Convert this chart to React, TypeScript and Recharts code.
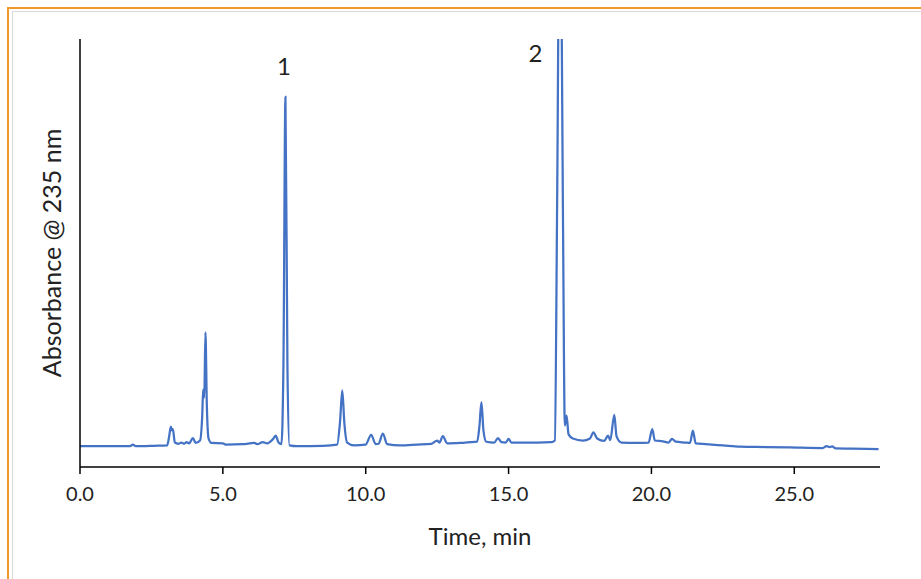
import { LineChart, Line, XAxis, YAxis, Label, ReferenceDot } from 'recharts'

// retention time (min) and detector response
const times = [
  0.0, 1.0, 1.75, 1.85, 1.95, 2.6, 3.05, 3.12, 3.18, 3.22, 3.25, 3.32, 3.45, 3.55, 3.64, 3.73,
  3.82, 3.95, 4.05, 4.2, 4.28, 4.31, 4.35, 4.39, 4.44, 4.5, 4.6, 5.0, 5.1, 5.7, 6.1, 6.2,
  6.4, 6.55, 6.75, 6.85, 6.95, 7.05, 7.12, 7.19, 7.26, 7.33, 7.6, 8.5, 9.0, 9.1, 9.18, 9.25,
  9.35, 9.6, 10.0, 10.19, 10.35, 10.45, 10.6, 10.75, 11.2, 11.8, 12.3, 12.5, 12.58, 12.7, 12.85,
  13.3, 13.9, 13.98, 14.05, 14.12, 14.22, 14.5, 14.63, 14.75, 14.9, 15.0, 15.1, 16.0, 16.5,
  16.62, 16.7, 16.8, 16.9, 16.97, 17.03, 17.1, 17.25, 17.6, 17.85, 17.97, 18.1, 18.35, 18.48,
  18.56, 18.7, 18.78, 18.95, 19.5, 19.9, 20.03, 20.12, 20.4, 20.6, 20.72, 20.85, 21.2, 21.35,
  21.45, 21.55, 21.9, 22.5, 23.1, 24.0, 24.85, 26.0, 26.12, 26.25, 26.32, 26.45, 27.0, 27.95,
]
const absorbance = [
  0.1, 0.1, 0.1, 0.5, 0.1, 0.2, 0.3, 2.5, 4.9, 4.0, 4.3, 1.0, 0.7, 1.0, 0.7, 1.1,
  0.8, 2.1, 0.9, 1.5, 8, 14, 12, 28, 10, 2.0, 0.9, 0.8, 0.5, 0.6, 0.9, 0.6,
  1.1, 0.8, 1.8, 2.7, 1.0, 0.6, 20, 85.8, 20, 0.3, 0.1, 0.2, 0.5, 6, 13.8, 6,
  1.0, 0.3, 0.5, 2.9, 0.6, 0.7, 3.2, 0.6, 0.3, 0.5, 0.7, 1.5, 1.0, 2.6, 0.8,
  0.9, 1.2, 5, 10.9, 4, 1.2, 1.0, 2.1, 1.1, 1.0, 1.9, 1.0, 1.0, 1.1,
  1.5, 60, 150, 60, 5.2, 7.6, 3, 2.0, 1.5, 2.0, 3.5, 2.0, 1.4, 2.7,
  1.6, 7.8, 2.5, 1.0, 0.9, 1.0, 4.3, 1.5, 1.3, 1.0, 1.9, 1.2, 1.0, 0.9,
  3.9, 0.8, 0.6, 0.3, 0.0, -0.1, -0.2, -0.35, 0.1, -0.1, 0.05, -0.45, -0.5, -0.6,
]
const xTicks = [0, 5, 10, 15, 20, 25]

// peak numbering above the two main peaks
const peakNames = ['1', '2']
const peakLabelTimes = [7.14, 15.94]
const peakLabelLevels = [93.3, 96.4]

const FONT = 'Lato, "Open Sans", sans-serif'

export default function App() {
  const data = times.map((t, i) => ({ t, a: absorbance[i] }))

  return (
    <div style={{ position: 'absolute', left: 0, top: 0, width: 921, height: 579, background: '#fff', overflow: 'hidden' }}>
      <div style={{ position: 'absolute', left: 7, top: 7, width: 930, height: 600, borderTop: '2px solid #F2982B', borderLeft: '2px solid #F2982B' }} />
      <div style={{ position: 'absolute', left: 12, top: 11, width: 930, height: 600, borderTop: '1px solid #DADADA', borderLeft: '1px solid #DADADA' }} />
      <div style={{ position: 'absolute', left: 0, top: 0 }}>
        <LineChart width={921} height={579} data={data} margin={{ top: 39, right: 41, bottom: 52, left: 0 }}>
          <XAxis
            dataKey="t"
            type="number"
            domain={[0, 28]}
            ticks={xTicks}
            tickFormatter={(v: number) => v.toFixed(1)}
            height={60}
            stroke="#000"
            strokeWidth={1.5}
            tickSize={7}
            tickMargin={13}
            tick={{ fill: '#222', fontSize: 20, fontFamily: FONT }}
          >
            <Label value="Time, min" position="insideTop" offset={61} fill="#222" fontSize={24} fontFamily={FONT} />
          </XAxis>
          <YAxis
            type="number"
            domain={[-5, 100]}
            allowDataOverflow
            width={80}
            stroke="#000"
            strokeWidth={1.5}
            tick={false}
            tickLine={false}
          >
            <Label value="Absorbance @ 235 nm" angle={-90} position="center" dx={12} fill="#222" fontSize={25} fontFamily={FONT} />
          </YAxis>
          <Line
            type="monotone"
            dataKey="a"
            stroke="#4472C4"
            strokeWidth={2.25}
            dot={false}
            isAnimationActive={false}
          />
          {peakNames.map((name, i) => (
            <ReferenceDot
              key={name}
              x={peakLabelTimes[i]}
              y={peakLabelLevels[i]}
              r={0}
              stroke="none"
              fill="none"
              label={{ value: name, position: 'center', fill: '#222', fontSize: 24, fontFamily: FONT }}
            />
          ))}
        </LineChart>
      </div>
    </div>
  )
}
